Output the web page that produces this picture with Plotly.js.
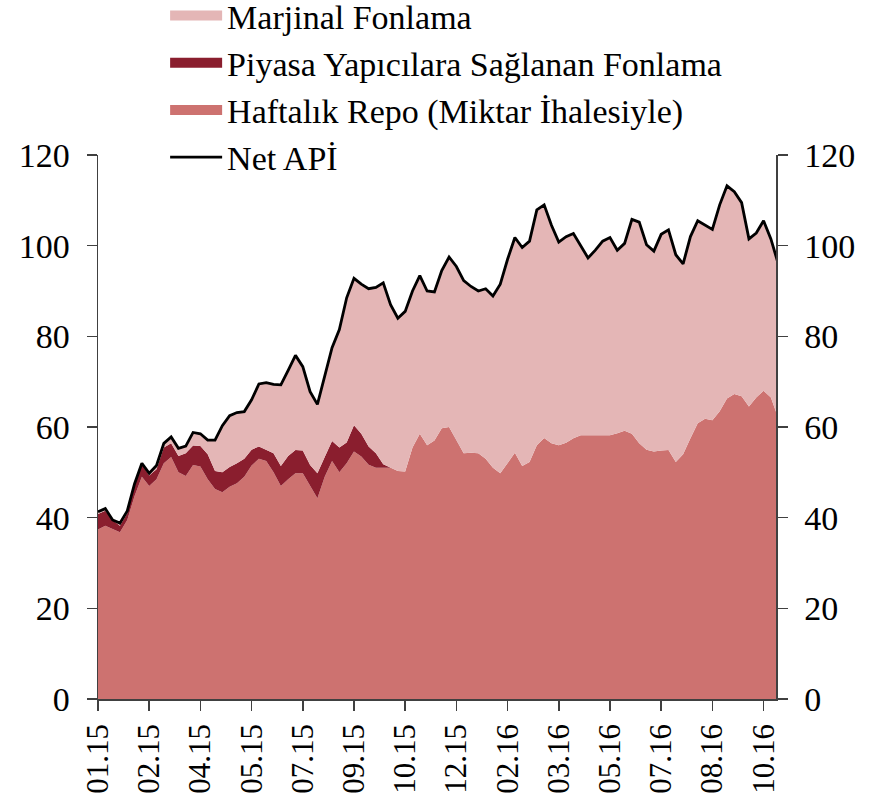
<!DOCTYPE html>
<html>
<head>
<meta charset="utf-8">
<script src="https://cdn.plot.ly/plotly-3.0.1.min.js"></script>
<style>html,body{margin:0;padding:0;background:#fff;}#chart{width:877px;height:799px;}</style>
</head>
<body>
<div id="chart"></div>
<script>
// Weekly observations, Jan 2015 – Oct 2016 (billion TL)
const tickLabels = ["01.15","02.15","04.15","05.15","07.15","09.15","10.15","12.15","02.16","03.16","05.16","07.16","08.16","10.16"];
const tickStep = 7;

const netApi = [41.3,42.0,39.5,38.8,41.5,47.5,52.0,49.8,51.5,56.4,57.8,55.3,55.8,58.8,58.5,57.1,57.1,60.3,62.5,63.2,
  63.4,66.0,69.5,69.8,69.4,69.3,72.5,75.8,73.3,67.8,65.0,71.5,77.5,81.5,88.5,92.8,91.5,90.5,90.8,91.8,
  87.0,84.0,85.5,90.0,93.4,90.0,89.8,94.5,97.5,95.4,92.3,91.0,90.0,90.5,88.9,91.5,97.0,101.8,99.6,101.0,
  107.9,109.0,104.5,100.8,102.0,102.7,100.0,97.3,99.0,101.0,101.8,99.0,100.5,105.8,105.2,100.2,98.8,102.5,103.5,98.0,
  96.0,102.0,105.5,104.5,103.6,109.0,113.2,111.9,109.5,101.5,102.8,105.5,101.5,96.0];

const repo = [37.4,38.2,37.5,36.8,39.5,44.8,49.0,47.0,48.5,52.0,53.4,50.0,49.2,51.6,51.3,48.5,46.3,45.6,46.8,47.6,
  49.0,51.5,53.0,52.5,50.0,47.0,48.5,49.8,49.8,47.0,44.3,49.0,52.5,50.0,52.0,54.6,53.5,51.7,51.0,51.0,
  51.0,50.3,50.2,55.5,58.5,56.0,57.0,59.7,60.0,57.0,54.2,54.3,54.2,53.0,51.0,49.8,52.0,54.3,51.4,52.3,
  56.0,57.6,56.4,56.0,56.5,57.5,58.2,58.2,58.2,58.2,58.2,58.6,59.2,58.5,56.4,55.0,54.6,54.8,54.9,52.3,
  54.0,57.5,60.8,61.8,61.5,63.5,66.3,67.3,66.8,64.5,66.5,68.0,66.5,62.0];

const piyasa = [3.4,3.3,2.0,1.4,1.5,2.5,2.9,2.3,2.2,3.5,3.0,3.6,5.0,4.3,4.5,5.5,4.0,4.4,4.4,4.4,
  4.0,3.5,2.7,2.5,4.2,4.4,5.1,5.1,5.0,4.6,5.5,4.4,4.4,5.5,4.6,5.8,5.0,4.0,3.2,0.8,
  0,0,0,0,0,0,0,0,0,0,0,0,0,0,0,0,0,0,0,0,
  0,0,0,0,0,0,0,0,0,0,0,0,0,0,0,0,0,0,0,0,
  0,0,0,0,0,0,0,0,0,0,0,0,0,0];

// Marginal funding is the remainder of net liquidity after the other two channels
const marjinal = netApi.map((v, i) => +(v - repo[i] - piyasa[i]).toFixed(2));
const xIdx = netApi.map((_, i) => i);
const tickVals = tickLabels.map((_, k) => k * tickStep);

const C_REPO = '#CD7270', C_PY = '#8A1E2E', C_MARJ = '#E4B6B6';
const FONT = 'Liberation Serif, Times New Roman, serif';

const traces = [
  {x: xIdx, y: repo, type: 'scatter', mode: 'lines', stackgroup: 'a', line: {width: 0, color: C_REPO}, fillcolor: C_REPO, showlegend: false, hoverinfo: 'skip'},
  {x: xIdx, y: piyasa, type: 'scatter', mode: 'lines', stackgroup: 'a', line: {width: 0, color: C_PY}, fillcolor: C_PY, showlegend: false, hoverinfo: 'skip'},
  {x: xIdx, y: marjinal, type: 'scatter', mode: 'lines', stackgroup: 'a', line: {width: 0, color: C_MARJ}, fillcolor: C_MARJ, showlegend: false, hoverinfo: 'skip'},
  {x: xIdx, y: netApi, type: 'scatter', mode: 'lines', line: {width: 2.8, color: '#000'}, name: 'Net APİ', legendrank: 4},
  // legend entries
  {x: [null], y: [null], type: 'scatter', mode: 'lines', line: {width: 16, color: C_MARJ}, name: 'Marjinal Fonlama', legendrank: 1},
  {x: [null], y: [null], type: 'scatter', mode: 'lines', line: {width: 16, color: C_PY}, name: 'Piyasa Yapıcılara Sağlanan Fonlama', legendrank: 2},
  {x: [null], y: [null], type: 'scatter', mode: 'lines', line: {width: 16, color: C_REPO}, name: 'Haftalık Repo (Miktar İhalesiyle)', legendrank: 3},
  {x: [0], y: [0], yaxis: 'y2', type: 'scatter', mode: 'markers', marker: {opacity: 0}, showlegend: false, hoverinfo: 'skip'}
];

const axisCommon = {
  showline: true, linecolor: '#404040', linewidth: 1.5,
  ticks: 'outside', ticklen: 10, tickcolor: '#404040', tickwidth: 1.5,
  showgrid: false, zeroline: false,
  tickfont: {family: FONT, size: 34, color: '#000'}
};

const layout = {
  width: 877, height: 799,
  margin: {l: 98, r: 101, t: 155, b: 100, autoexpand: false},
  paper_bgcolor: '#fff', plot_bgcolor: 'rgba(0,0,0,0)',
  font: {family: FONT, color: '#000'},
  showlegend: true,
  legend: {x: 0.099, xanchor: 'left', y: 1.309, yanchor: 'top', bgcolor: 'rgba(0,0,0,0)', traceorder: 'normal',
    font: {family: FONT, size: 34, color: '#000'}, itemwidth: 52, tracegroupgap: 0},
  xaxis: Object.assign({}, axisCommon, {range: [0, 92.7], tickmode: 'array', tickvals: tickVals, ticktext: tickLabels,
    tickangle: -90, ticklabelstandoff: 1, tickfont: {family: FONT, size: 31, color: '#000'}}),
  yaxis: Object.assign({}, axisCommon, {range: [0, 120], dtick: 20, side: 'left', ticklabelstandoff: 10}),
  yaxis2: Object.assign({}, axisCommon, {range: [0, 120], dtick: 20, side: 'right', overlaying: 'y', ticklabelstandoff: 10})
};

Plotly.newPlot('chart', traces, layout, {displayModeBar: false, staticPlot: true});
</script>
</body>
</html>
